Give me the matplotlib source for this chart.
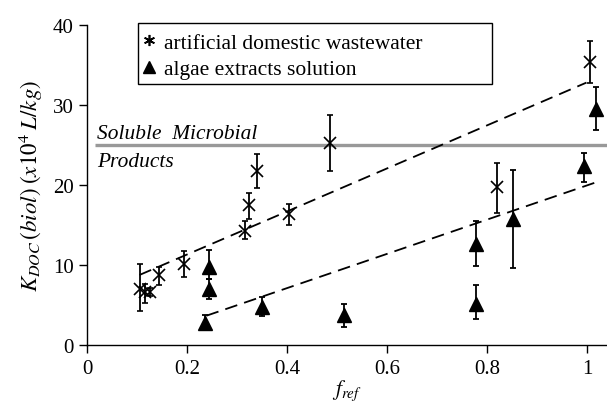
import matplotlib
matplotlib.use("Agg")
import matplotlib.pyplot as plt
from matplotlib.lines import Line2D
from matplotlib.patches import Rectangle
import numpy as np

# ---- data ----
# artificial domestic wastewater (crosses)
adw_x = [0.105, 0.116, 0.126, 0.143, 0.193, 0.316, 0.323, 0.339, 0.404, 0.486, 0.821, 1.006]
adw_y = [7.0, 6.6, 6.6, 8.8, 10.1, 14.3, 17.5, 21.8, 16.4, 25.2, 19.7, 35.4]
adw_hi = [10.1, 7.6, 7.1, 9.8, 11.8, 15.5, 19.0, 23.9, 17.6, 28.8, 22.7, 38.0]
adw_lo = [4.2, 5.3, 6.1, 7.5, 8.5, 13.2, 15.8, 19.6, 15.0, 21.8, 16.5, 32.8]

# algae extracts solution (triangles)
alg_x = [0.235, 0.243, 0.243, 0.349, 0.514, 0.779, 0.779, 0.851, 0.993, 1.019]
alg_y = [2.75, 9.7, 7.0, 4.8, 3.7, 12.6, 5.1, 15.8, 22.4, 29.5]
alg_hi = [3.7, 11.9, 8.25, 6.0, 5.1, 15.5, 7.5, 21.9, 24.0, 32.2]
alg_lo = [1.9, 8.25, 5.75, 3.6, 2.3, 9.9, 3.25, 9.6, 20.4, 26.9]

# linear trend lines (slope, intercept, x range)
adw_fit = (26.9, 5.93, (0.105, 0.999))
alg_fit = (21.4, -1.45, (0.239, 1.016))

smp_level = 25.0
smp_xstart = 0.016

xticks = [0, 0.2, 0.4, 0.6, 0.8, 1]
xticklabels = ["0", "0.2", "0.4", "0.6", "0.8", "1"]
yticks = [0, 10, 20, 30, 40]

# ---- style ----
plt.rcParams['font.family'] = ['Liberation Serif', 'DejaVu Serif']
plt.rcParams['mathtext.fontset'] = 'stix'

fig = plt.figure(figsize=(6.07, 4.06), dpi=100)
ax = fig.add_axes([87/607, 1 - 346/406, 520/607, 320/406])
ax.set_xlim(0, 1.04)
ax.set_ylim(0, 40)

# SMP line
ax.plot([smp_xstart, 1.04], [smp_level, smp_level], color='#999999', lw=2.4, zorder=1,
        solid_capstyle='butt')
ax.text(0.02, 25.84, "Soluble  Microbial", fontstyle='italic', fontsize=15.4,
        ha='left', va='baseline')
ax.text(0.02, 22.4, "Products", fontstyle='italic', fontsize=15.4,
        ha='left', va='baseline')

# trend lines
for slope, icpt, (x0, x1) in (adw_fit, alg_fit):
    xs = np.array([x0, x1])
    ax.plot(xs, slope * xs + icpt, color='black', lw=1.3, dashes=(7, 4), zorder=2)

# error bars
adw_err = [np.array(adw_y) - np.array(adw_lo), np.array(adw_hi) - np.array(adw_y)]
alg_err = [np.array(alg_y) - np.array(alg_lo), np.array(alg_hi) - np.array(alg_y)]
ax.errorbar(adw_x, adw_y, yerr=adw_err, fmt='x', color='black', ms=8, mew=1.2,
            elinewidth=1.3, capsize=2.5, capthick=1.3, zorder=3)
ax.errorbar(alg_x, alg_y, yerr=alg_err, fmt='^', color='black', ms=9.5,
            elinewidth=1.3, capsize=2.5, capthick=1.3, zorder=3)

# axes styling
for s in ('top', 'right'):
    ax.spines[s].set_visible(False)
ax.spines['left'].set_linewidth(1.0)
ax.spines['bottom'].set_linewidth(1.0)
ax.set_xticks(xticks)
ax.set_xticklabels(xticklabels)
ax.set_yticks(yticks)
ax.tick_params(axis='both', direction='out', length=6, width=1.0, labelsize=15, colors='black')
ax.tick_params(axis='x', pad=4)

ax.set_xlabel(r'$f_{ref}$', fontsize=15.5, labelpad=0)
ax.set_ylabel(r'$K_{DOC}\,(biol)\;(x10^4\;L/kg)$', fontsize=16.5, labelpad=6)

# legend
handles = [
    Line2D([], [], ls='none', marker=(6, 2, 0), color='black', ms=8, mew=1.2),
    Line2D([], [], ls='none', marker='^', color='black', ms=8.5),
]
leg = ax.legend(handles, ["artificial domestic wastewater", "algae extracts solution"],
                loc='upper left', bbox_to_anchor=(0.107, 0.976), fontsize=15.5,
                frameon=False, handlelength=0.6, handletextpad=0.4, borderpad=0.0,
                labelspacing=0.3, borderaxespad=0)
# legend box (drawn in figure pixel fractions)
fig.patches.append(Rectangle((137.7/607, 1 - 85/406), (492.3 - 137.7)/607, (85 - 24.3)/406,
                             transform=fig.transFigure, fill=False, edgecolor='black',
                             lw=1.0, zorder=5))

fig.savefig("out.png", dpi=100)
